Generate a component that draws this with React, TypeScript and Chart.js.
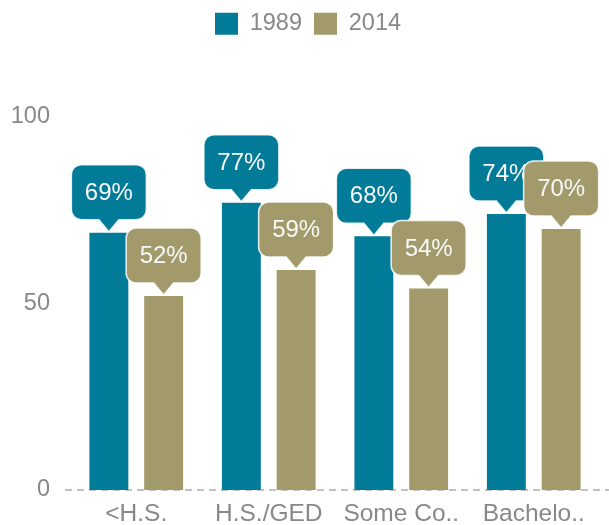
import React, { useEffect, useRef } from "react";
import { Chart, registerables } from "chart.js";

Chart.register(...registerables);

const categories = ["<H.S.", "H.S./GED", "Some Co..", "Bachelo.."];
const seriesNames = ["1989", "2014"];
const values1989 = [69, 77, 68, 74];
const values2014 = [52, 59, 54, 70];
const yTicks = [0, 50, 100];

const TEAL = "#027B99";
const GOLD = "#A29A6A";
const GRAY = "#888888";
const FONT = "'Liberation Sans', Arial, sans-serif";

const zeroLinePlugin = {
  id: "zeroLine",
  beforeDatasetsDraw(chart: any) {
    const y = chart.scales.y.getPixelForValue(0);
    const ctx = chart.ctx;
    ctx.save();
    ctx.strokeStyle = "#b0b0b0";
    ctx.lineWidth = 1.5;
    ctx.setLineDash([7, 5]);
    ctx.beginPath();
    ctx.moveTo(chart.chartArea.left - 5, y);
    ctx.lineTo(chart.width, y);
    ctx.stroke();
    ctx.restore();
  },
};

const bubbleLabelPlugin = {
  id: "bubbleLabels",
  afterDatasetsDraw(chart: any) {
    const ctx = chart.ctx;
    ctx.save();
    chart.data.datasets.forEach((ds: any, di: number) => {
      const meta = chart.getDatasetMeta(di);
      meta.data.forEach((bar: any, i: number) => {
        const x = bar.x;
        const top = bar.y;
        const w = 75;
        const h = 55;
        const r = 10;
        const ptrH = 13;
        const ptrW = 10;
        const bottom = top - ptrH;
        const boxTop = bottom - h;
        const left = x - w / 2;
        ctx.beginPath();
        ctx.moveTo(left + r, boxTop);
        ctx.lineTo(left + w - r, boxTop);
        ctx.arcTo(left + w, boxTop, left + w, boxTop + r, r);
        ctx.lineTo(left + w, bottom - r);
        ctx.arcTo(left + w, bottom, left + w - r, bottom, r);
        ctx.lineTo(x + ptrW, bottom);
        ctx.lineTo(x, top - 1);
        ctx.lineTo(x - ptrW, bottom);
        ctx.lineTo(left + r, bottom);
        ctx.arcTo(left, bottom, left, bottom - r, r);
        ctx.lineTo(left, boxTop + r);
        ctx.arcTo(left, boxTop, left + r, boxTop, r);
        ctx.closePath();
        ctx.fillStyle = ds.backgroundColor;
        ctx.fill();
        ctx.strokeStyle = "rgba(255,255,255,0.85)";
        ctx.lineWidth = 1.5;
        ctx.stroke();
        ctx.fillStyle = "#f8f8f8";
        ctx.font = `24px ${FONT}`;
        ctx.textAlign = "center";
        ctx.textBaseline = "middle";
        ctx.fillText(`${ds.data[i]}%`, x, boxTop + h / 2 + 1);
      });
    });
    ctx.restore();
  },
};

const legendSpacePlugin = {
  id: "legendSpace",
  beforeInit(chart: any) {
    const legend = chart.legend;
    if (!legend) return;
    const origFit = legend.fit;
    legend.fit = function () {
      origFit.bind(legend)();
      this.height = 117;
    };
    const origDraw = legend.draw;
    legend.draw = function () {
      const ctx = chart.ctx;
      ctx.save();
      ctx.translate(8, 0);
      origDraw.bind(legend)();
      ctx.restore();
    };
  },
};

export default function App() {
  const ref = useRef<HTMLCanvasElement | null>(null);
  useEffect(() => {
    document.body.style.margin = "0";
    if (!ref.current) return;
    const chart = new Chart(ref.current, {
      type: "bar",
      data: {
        labels: categories,
        datasets: [
          { label: seriesNames[0], data: values1989, backgroundColor: TEAL, categoryPercentage: 0.827, barPercentage: 0.71 },
          { label: seriesNames[1], data: values2014, backgroundColor: GOLD, categoryPercentage: 0.827, barPercentage: 0.71 },
        ],
      },
      options: {
        responsive: false,
        animation: false,
        layout: { padding: { top: 0, right: 9, left: 0, bottom: 0 } },
        plugins: {
          legend: {
            position: "top",
            labels: {
              boxWidth: 23,
              boxHeight: 22,
              padding: 12,
              color: GRAY,
              font: { family: FONT, size: 23.5, lineHeight: 1 },
            },
          },
          tooltip: { enabled: false },
        },
        scales: {
          x: {
            afterFit(scale: any) {
              scale.height = 35;
            },
            grid: { display: false, drawTicks: false },
            border: { display: false },
            ticks: { color: GRAY, font: { family: FONT, size: 24.5 }, padding: 10, maxRotation: 0, autoSkip: false },
          },
          y: {
            min: 0,
            max: 100,
            afterFit(scale: any) {
              scale.width = 70;
            },
            afterBuildTicks(scale: any) {
              scale.ticks = yTicks.map((v) => ({ value: v }));
            },
            grid: { display: false, drawTicks: false },
            border: { display: false },
            ticks: { color: GRAY, font: { family: FONT, size: 23.5 }, padding: 20 },
          },
        },
      },
      plugins: [legendSpacePlugin, zeroLinePlugin, bubbleLabelPlugin],
    });
    return () => chart.destroy();
  }, []);
  return (
    <div style={{ position: "fixed", left: 0, top: 0, width: 609, height: 525 }}>
      <canvas ref={ref} width={609} height={525} style={{ display: "block" }} />
    </div>
  );
}
